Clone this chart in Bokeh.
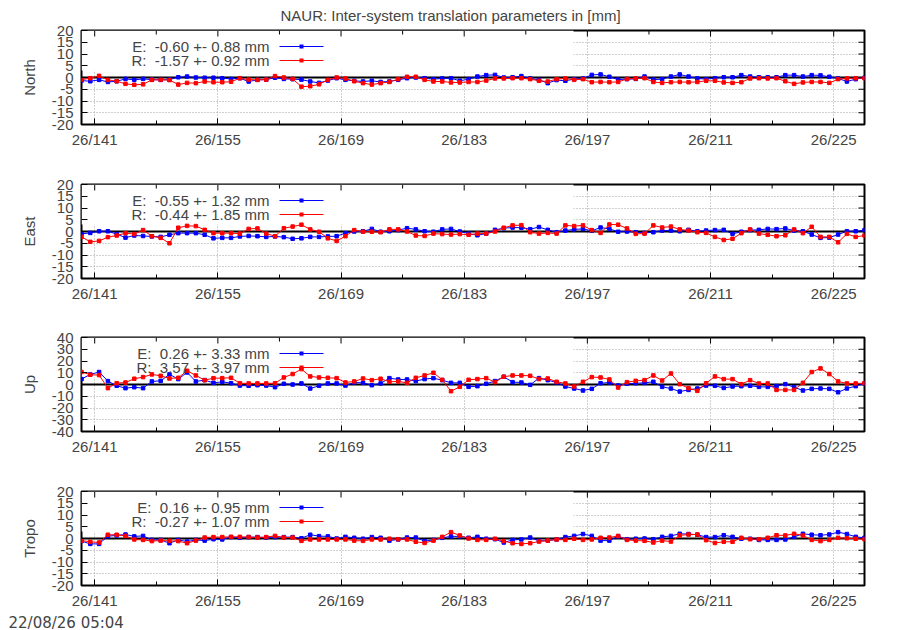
from bokeh.plotting import figure
from bokeh.layouts import column
from bokeh.models import FixedTicker, Range1d, Span, Label, BoxAnnotation, Arrow, Title
from bokeh.embed import file_html
from bokeh.resources import INLINE

FONT = "Liberation Sans"
FS = "15px"

# day of year of each daily solution (plotted at noon)
days = [139, 140, 141, 142, 143, 144, 145, 146, 147, 148, 149, 150, 151, 152, 153,
        154, 155, 156, 157, 158, 159, 160, 161, 162, 163, 164, 165, 166, 167, 168,
        169, 170, 171, 172, 173, 174, 175, 176, 177, 178, 179, 180, 181, 182, 183,
        184, 185, 186, 187, 188, 189, 190, 191, 192, 193, 194, 195, 196, 197, 198,
        199, 200, 201, 202, 203, 204, 205, 206, 207, 208, 209, 210, 211, 212, 213,
        214, 215, 216, 217, 218, 219, 220, 221, 222, 223, 224, 225, 226, 227, 228]

x_ticks = [141, 155, 169, 183, 197, 211, 225]
x_minor = [148, 162, 176, 190, 204, 218]
x_tick_labels = ["26/141", "26/155", "26/169", "26/183", "26/197", "26/211", "26/225"]

ticks_20 = [-20, -15, -10, -5, 0, 5, 10, 15, 20]
ticks_40 = [-40, -30, -20, -10, 0, 10, 20, 30, 40]

north_e = [-1.3, -1.6, -1.0, -1.9, -1.6, -0.6, -1.0, -0.6, -0.9, -1.0,
           -0.9, 0.1, 0.4, 0.0, -0.1, -0.1, -0.3, -0.6, -0.3, -1.7,
           -1.0, -0.9, -0.1, -0.6, -0.7, -0.9, -1.7, -2.3, -1.3, -0.3,
           -1.0, -1.4, -1.7, -1.4, -1.9, -1.7, -1.0, -0.3, 0.0, -0.3,
           -0.7, -0.4, -0.3, -1.4, -0.7, 0.4, 1.0, 1.1, 0.0, 0.1,
           0.6, -0.4, -1.0, -2.4, -1.1, -1.4, -0.7, -0.4, 1.1, 1.3,
           0.3, -0.9, -0.7, -0.6, 0.4, -0.9, -0.7, 0.4, 1.3, 0.4,
           -0.4, -0.7, -0.3, 0.1, 0.1, 1.0, 0.4, 0.1, 0.1, 0.1,
           1.0, 1.0, 0.4, 1.0, 0.9, 0.3, -0.4, -1.7, -0.7, -0.1]
north_r = [-0.9, -0.3, 0.7, -1.0, -1.6, -2.7, -3.1, -2.9, -1.0, -1.0,
           -1.1, -3.0, -2.3, -2.4, -1.7, -2.0, -2.0, -1.8, -0.3, -0.9,
           -1.0, -0.9, 0.6, 0.0, -0.6, -3.9, -3.7, -2.9, -1.0, 0.0,
           -0.4, -1.6, -2.4, -3.0, -2.4, -1.9, -0.7, 0.3, 0.3, -1.0,
           -1.7, -1.7, -2.1, -2.1, -1.9, -1.9, -1.3, -0.4, -0.4, -0.3,
           -0.3, -0.7, -1.4, -1.7, -0.7, -0.4, -1.0, -0.7, -2.0, -1.9,
           -2.0, -1.9, -0.6, -0.4, -0.3, -1.9, -2.3, -2.0, -1.9, -2.0,
           -1.9, -1.4, -1.4, -2.1, -2.3, -2.0, -0.4, -0.3, -0.4, -0.3,
           -1.6, -2.7, -2.1, -1.9, -1.9, -2.3, -0.7, -0.4, -0.3, -0.3]

east_e = [-1.0, -0.6, 0.1, 0.1, -1.1, -2.6, -1.7, -1.9, -2.1, -2.3,
          -1.4, -0.7, -0.7, -0.7, -1.4, -2.9, -2.7, -2.7, -2.1, -1.9,
          -2.0, -2.3, -2.1, -2.4, -3.1, -2.9, -2.3, -2.3, -2.1, -2.0,
          -0.7, 0.0, 0.1, 1.1, -0.1, 0.1, 0.6, 1.4, 0.9, 0.1,
          -0.1, 0.9, 1.1, 0.0, -0.9, -1.6, -0.9, 0.7, 1.4, 1.7,
          1.6, 1.0, 1.9, 0.7, -0.3, 0.4, 0.9, 1.1, 0.3, 1.7,
          1.1, -0.1, 0.0, -0.3, -0.6, -0.3, 0.4, 0.4, 0.1, 0.7,
          0.1, 0.4, 0.6, 0.7, -1.0, -0.1, 0.6, 0.7, 1.1, 1.0,
          1.3, 0.4, 0.1, -1.3, -2.7, -2.6, -1.3, 0.1, 0.1, 0.6]
east_r = [-2.3, -4.4, -4.0, -2.4, -1.7, -0.7, -1.1, 0.6, -2.0, -2.7,
          -5.0, 1.6, 2.4, 2.3, 0.7, -0.7, -0.7, -0.7, -0.9, 1.1,
          1.3, -0.9, -2.0, 1.4, 2.1, 2.9, 0.9, -0.1, -2.9, -4.0,
          -2.0, 0.6, -0.1, -0.1, -0.3, 0.9, 0.9, 0.0, -1.7, -1.9,
          -0.9, -1.1, -1.3, -1.1, -1.4, -0.9, -0.9, 0.0, 1.6, 2.6,
          2.7, -0.3, -0.9, -0.6, -0.9, 2.6, 2.3, 2.6, 0.6, -0.6,
          3.0, 2.9, 1.3, -1.0, -0.9, 2.6, 1.7, 2.1, 0.9, 0.4,
          -0.3, -0.6, -2.3, -3.6, -3.1, -0.7, 0.9, -0.9, -1.4, -2.0,
          -1.6, 0.9, -0.7, 2.0, -2.3, -2.3, -4.6, -1.0, -2.3, -1.7]

up_e = [4.6, 8.6, 10.6, 2.9, -1.1, -3.1, -2.3, -3.1, 2.6, 3.1,
        8.6, 4.6, 10.3, 2.6, 3.7, 1.4, 2.3, 1.1, -0.9, -1.1,
        -0.6, -0.9, -2.3, 0.6, 0.0, 0.9, -3.4, -1.1, 0.9, 0.9,
        -0.9, 1.7, 1.4, -0.6, 0.9, 5.4, 4.3, 4.3, 2.9, 4.6,
        5.4, 3.7, 1.4, 1.4, -2.0, -1.4, 0.6, 2.9, 6.6, 2.0,
        1.7, -0.3, 5.4, 3.7, 1.7, -1.7, -3.4, -5.1, -3.7, 1.1,
        1.7, -0.9, 0.6, 1.1, 1.4, 2.3, -2.0, -3.4, -6.0, -4.6,
        -3.4, -0.9, -1.1, -2.9, -1.7, -1.4, -1.1, -2.0, -2.0, -1.4,
        0.3, -2.3, -5.1, -3.7, -3.4, -3.7, -6.6, -3.4, -1.4, 0.9]
up_r = [10.6, 8.3, 8.0, -3.1, 1.1, 1.7, 4.9, 6.3, 8.6, 7.4,
        5.1, 5.7, 11.7, 7.7, 3.7, 5.4, 5.4, 5.7, 1.1, 0.9,
        0.9, 0.9, 1.1, 6.0, 8.9, 13.1, 6.9, 6.0, 5.7, 5.4,
        1.7, 2.6, 5.1, 3.7, 4.9, 2.3, 2.6, 1.4, 5.7, 7.7,
        10.0, 4.0, -5.7, -2.0, 4.0, 4.6, 5.4, 2.0, 6.6, 7.7,
        7.7, 7.4, 4.6, 5.1, 2.3, 0.9, -1.7, 2.3, 6.3, 6.0,
        4.3, -2.6, 2.0, 3.1, 3.7, 7.7, 3.4, 9.4, 0.3, -3.1,
        -5.4, 1.1, 6.9, 4.6, 4.6, 0.3, 3.7, 0.9, 0.9, -4.6,
        -4.6, -4.6, 1.4, 10.6, 13.7, 8.9, 2.6, 0.9, 0.9, 1.1]

tropo_e = [-1.1, -2.3, -2.3, 1.0, 1.3, 1.7, 0.9, 1.1, -0.6, -0.6,
           -2.0, -0.6, -1.3, -0.6, -0.9, -0.3, -0.4, 0.6, 0.3, 0.6,
           0.6, 0.4, 0.6, 0.6, 0.6, 0.1, 1.6, 1.0, 0.9, 0.0,
           0.7, 0.3, -0.1, 0.6, 0.3, -0.9, -0.4, 0.4, 0.4, -1.1,
           -0.6, 0.3, 0.9, 0.9, 0.3, 0.7, -0.1, -0.3, -1.7, -0.6,
           -0.4, 0.4, -1.0, -0.9, -0.4, 0.6, 1.1, 1.9, 1.1, -0.9,
           -0.9, 0.9, -0.3, -0.1, 0.0, -0.3, 0.7, 1.1, 2.0, 1.9,
           1.6, 0.6, 0.6, 1.4, 0.7, -0.1, -0.1, -0.6, -0.6, -0.6,
           -0.4, 0.7, 2.0, 1.6, 1.4, 1.7, 2.7, 1.9, 0.7, 0.3]
tropo_r = [-0.9, -1.4, -1.7, 1.6, 1.6, 1.1, -0.4, -0.6, -1.1, -0.9,
           -1.0, -1.1, -2.0, -0.9, 0.4, 0.6, 0.6, 0.7, 0.7, 0.6,
           0.4, 0.6, 1.1, 0.4, 0.4, -1.0, -0.4, -0.4, -0.4, -0.4,
           -0.4, -0.9, -1.0, -0.4, -0.4, -0.1, -0.3, -0.4, -1.4, -1.9,
           -0.9, 0.7, 2.7, 1.3, 0.0, -0.6, -0.6, -0.1, -1.1, -2.0,
           -2.3, -2.0, -1.3, -0.9, -0.4, -0.6, -0.1, -0.6, -0.4, 0.3,
           0.4, 1.1, -0.6, -0.9, -1.0, -1.7, -0.9, -1.3, 1.3, 1.7,
           1.7, -0.7, -1.9, -1.4, -1.4, 0.3, -0.3, -0.3, 0.3, 1.4,
           1.3, 2.0, 1.3, -0.6, -1.1, -0.6, 0.3, 0.1, -0.1, -0.3]

# legend statistics: mean, rms
stats_e = {"North": (-0.60, 0.88), "East": (-0.55, 1.32), "Up": (0.26, 3.33), "Tropo": (0.16, 0.95)}
stats_r = {"North": (-1.57, 0.92), "East": (-0.44, 1.85), "Up": (3.57, 3.97), "Tropo": (-0.27, 1.07)}

title = "NAUR: Inter-system translation parameters in [mm]"
stamp = "22/08/26 05:04"

x = [d + 0.5 for d in days]

FW, FH = 783, 94   # frame size in px


def style_axis(ax, ticker, overrides, standoff):
    ax.ticker = ticker
    ax.axis_line_color = None
    ax.major_tick_in = 6
    ax.major_tick_out = 0
    ax.minor_tick_in = 4
    ax.minor_tick_out = 0
    ax.major_label_text_font = FONT
    ax.major_label_text_font_size = FS
    ax.major_label_standoff = standoff
    ax.major_label_overrides = overrides


def panel(name, yticks, e, r, bottom=30):
    lo, hi = yticks[0], yticks[-1]
    p = figure(frame_width=FW, frame_height=FH,
               min_border_left=81, min_border_right=36,
               min_border_top=30, min_border_bottom=bottom,
               x_range=Range1d(x[0], x[-1]), y_range=Range1d(lo, hi),
               output_backend="svg", toolbar_location=None)
    p.outline_line_color = "black"
    p.outline_line_width = 2
    p.background_fill_color = "white"
    p.border_fill_color = "white"

    style_axis(p.xaxis[0], FixedTicker(ticks=x_ticks, minor_ticks=x_minor),
               dict(zip(x_ticks, x_tick_labels)), 6)
    style_axis(p.yaxis[0], FixedTicker(ticks=yticks), {t: str(t) for t in yticks}, 8)
    p.yaxis.axis_label = name
    p.yaxis.axis_label_text_font = FONT
    p.yaxis.axis_label_text_font_size = FS
    p.yaxis.axis_label_text_font_style = "normal"
    p.yaxis.axis_label_standoff = 11

    for g in (p.xgrid[0], p.ygrid[0]):
        g.grid_line_color = "#a0a0a0"
        g.grid_line_dash = "1 2"
        g.grid_line_width = 1
    p.xgrid[0].ticker = FixedTicker(ticks=x_ticks)

    # mirrored tics on top and right border
    dy_major = 6 * (hi - lo) / FH
    dy_minor = 4 * (hi - lo) / FH
    dx_major = 6 * (x[-1] - x[0]) / FW
    p.segment(x0=x_ticks, x1=x_ticks, y0=[hi] * len(x_ticks), y1=[hi - dy_major] * len(x_ticks),
              line_color="black", line_width=1)
    p.segment(x0=x_minor, x1=x_minor, y0=[hi] * len(x_minor), y1=[hi - dy_minor] * len(x_minor),
              line_color="black", line_width=1)
    p.segment(x0=[x[-1]] * len(yticks), x1=[x[-1] - dx_major] * len(yticks), y0=yticks, y1=yticks,
              line_color="black", line_width=1)

    # opaque key box, like gnuplot's
    p.add_layout(BoxAnnotation(left=0, right=492, bottom=54, top=FH,
                               left_units="screen", right_units="screen",
                               bottom_units="screen", top_units="screen",
                               fill_color="white", fill_alpha=1.0, line_color=None,
                               level="underlay"))
    p.add_layout(Span(location=0, dimension="width", line_color="black",
                      line_width=2, level="underlay"))

    for vals, col, key, st, ky in ((e, "blue", "E", stats_e[name], 78),
                                   (r, "red", "R", stats_r[name], 64)):
        p.line(x, vals, line_color=col, line_width=1)
        p.scatter(x, vals, marker="square", size=3.5, color=col)
        p.add_layout(Label(x=188, y=ky, x_units="screen", y_units="screen",
                           text="%s:\u00a0 %.2f +- %.2f mm" % (key, st[0], st[1]),
                           text_align="right", text_baseline="middle",
                           text_font=FONT, text_font_size=FS))
        p.add_layout(Arrow(end=None, x_start=198, y_start=ky, x_end=242, y_end=ky,
                           start_units="screen", end_units="screen",
                           line_color=col, line_width=1))
        p.add_layout(BoxAnnotation(left=218, right=222, bottom=ky - 2, top=ky + 2,
                                   left_units="screen", right_units="screen",
                                   bottom_units="screen", top_units="screen",
                                   fill_color=col, fill_alpha=1.0, line_color=None))
    return p


p1 = panel("North", ticks_20, north_e, north_r, bottom=30)
p1.title.text = title
p1.title.align = "left"
p1.title.offset = 199
p1.title.standoff = 10
p1.title.vertical_align = "top"
p1.title.text_font = FONT
p1.title.text_font_size = FS
p1.title.text_font_style = "normal"

p2 = panel("East", ticks_20, east_e, east_r, bottom=29)
p3 = panel("Up", ticks_40, up_e, up_r, bottom=30)
p4 = panel("Tropo", ticks_20, tropo_e, tropo_r, bottom=42)
p4.xaxis.major_label_text_line_height = 1.0
p4.add_layout(Title(text=stamp, align="left", offset=-73, standoff=0, text_line_height=1.0,
                    text_font="DejaVu Sans", text_font_size="15px", text_font_style="normal"), "below")

p = column(p1, p2, p3, p4, spacing=0)

open("out.html", "w").write(file_html(p, INLINE))
